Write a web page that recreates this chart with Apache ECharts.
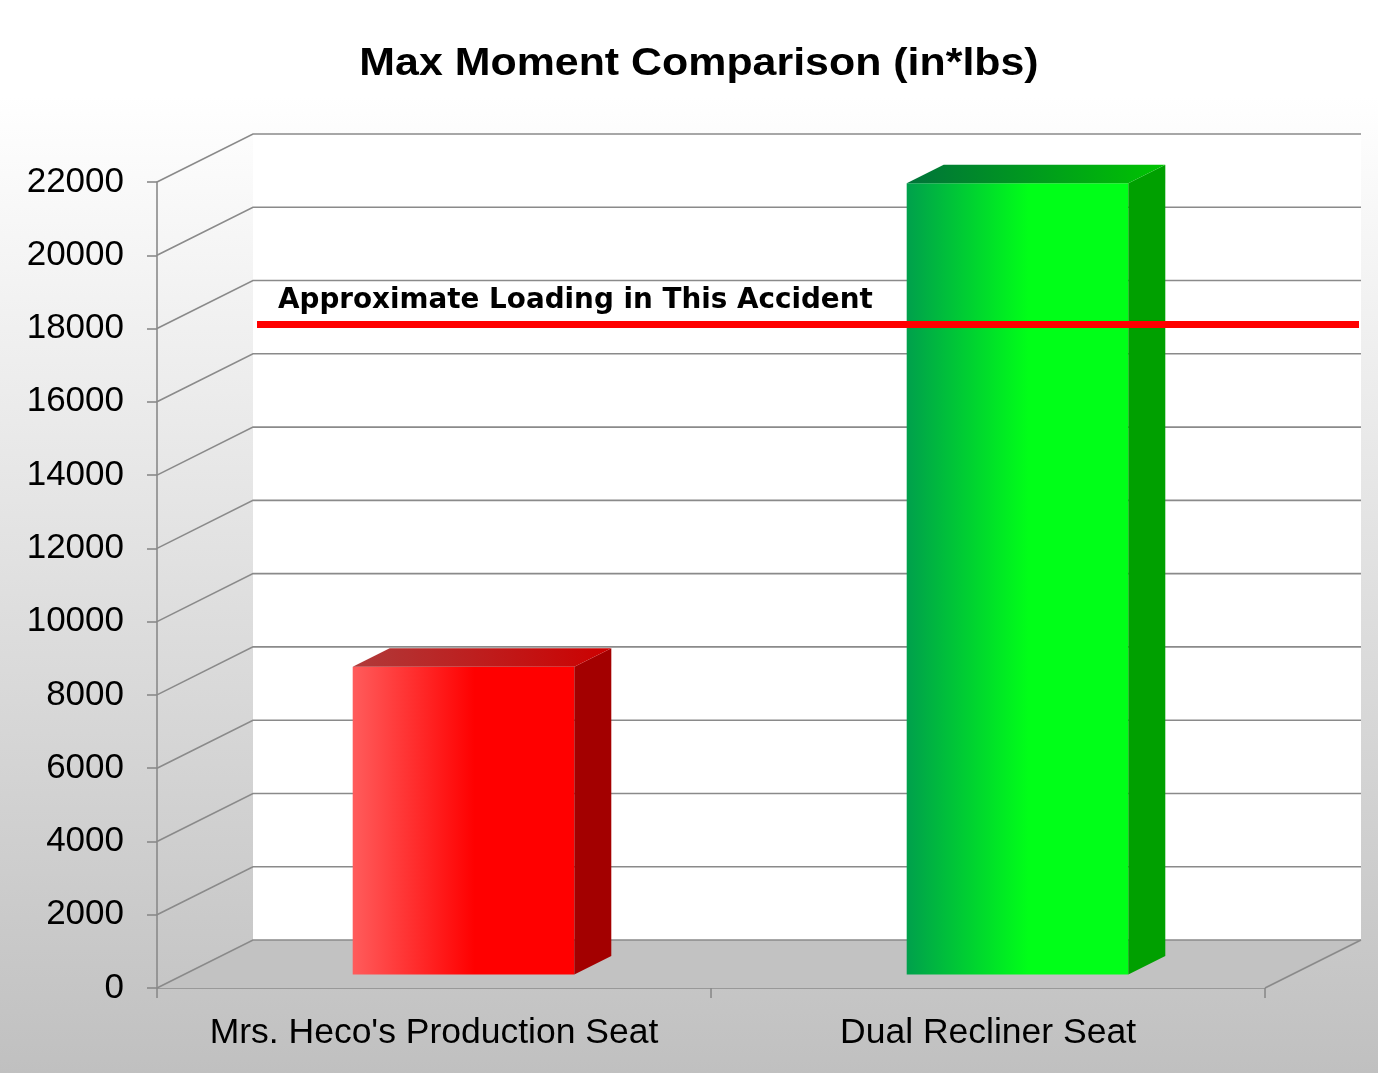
<!DOCTYPE html>
<html lang="en">
<head>
    <meta charset="UTF-8">
    <title>Max Moment Comparison</title>
    <style>
        html, body { margin: 0; padding: 0; }
        body { background: linear-gradient(to bottom, #ffffff 0%, #ffffff 9%, #c0c0c0 100%); }
    </style>
</head>
<body>
<div id="chart_moment" style="width:1378px;height:1073px;"></div>
<script src="https://cdn.jsdelivr.net/npm/echarts@6/dist/echarts.min.js"></script>
<script>
    var categories = ["Mrs. Heco's Production Seat", 'Dual Recliner Seat'];
    var maxMoment = [8400, 21600];
    var yTicks = [0, 2000, 4000, 6000, 8000, 10000, 12000, 14000, 16000, 18000, 20000, 22000];
    var loadingValue = [16800];
    var loadingLabel = 'Approximate Loading in This Accident';
    var chartTitle = 'Max Moment Comparison (in*lbs)';

    // 3d look: depth of the box and where the bars sit inside it
    var DEPTH_X = 96, DEPTH_Y = -48;
    var BAR_OFF_X = 29.5, BAR_OFF_Y = -13.5;
    var BAR_DEPTH_X = 37, BAR_DEPTH_Y = -18.5;

    var barColors = [
        { light: '#ff5c5c', main: '#ff0000', side: '#a30000', topL: '#b03a3a', topR: '#cc0000' },
        { light: '#00a04c', main: '#00ff18', side: '#00a000', topL: '#00733a', topR: '#00c400' }
    ];

    var myChart = echarts.init(document.getElementById('chart_moment'));

    function hGrad(c0, c1, stop) {
        return new echarts.graphic.LinearGradient(0, 0, 1, 0, [
            { offset: 0, color: c0 },
            { offset: stop, color: c1 },
            { offset: 1, color: c1 }
        ]);
    }

    // walls, floor and the 3d grid lines
    function renderFrame(params, api) {
        var cs = params.coordSys;
        var x0 = cs.x, x1 = cs.x + cs.width;
        var yZero = api.coord([0, 0])[1];
        var yTop = api.coord([0, yTicks[yTicks.length - 1]])[1];
        var children = [];
        children.push({
            type: 'rect',
            shape: { x: x0 + DEPTH_X, y: yTop + DEPTH_Y, width: cs.width, height: yZero - yTop },
            style: { fill: '#ffffff' }
        });
        children.push({
            type: 'polygon',
            shape: { points: [[x0, yZero], [x1, yZero], [x1 + DEPTH_X, yZero + DEPTH_Y], [x0 + DEPTH_X, yZero + DEPTH_Y]] },
            style: { fill: '#c2c2c2' }
        });
        yTicks.forEach(function (v) {
            var y = api.coord([0, v])[1];
            children.push({
                type: 'polyline',
                shape: { points: [[x0, y], [x0 + DEPTH_X, y + DEPTH_Y], [x1 + DEPTH_X, y + DEPTH_Y]] },
                style: { stroke: '#8a8a8a', lineWidth: 1.6, fill: null }
            });
        });
        children.push({
            type: 'line',
            shape: { x1: x1, y1: yZero, x2: x1 + DEPTH_X, y2: yZero + DEPTH_Y },
            style: { stroke: '#8a8a8a', lineWidth: 1.6 }
        });
        return { type: 'group', children: children };
    }

    function renderBar(params, api) {
        var idx = api.value(0);
        var base = api.coord([idx, 0]);
        var top = api.coord([idx, api.value(1)]);
        var w = api.size([1, 0])[0] * 0.4;
        var xl = base[0] + BAR_OFF_X - w / 2, xr = xl + w;
        var yb = base[1] + BAR_OFF_Y, yt = top[1] + BAR_OFF_Y;
        var c = barColors[idx];
        return {
            type: 'group',
            children: [
                {
                    type: 'rect',
                    shape: { x: xl, y: yt, width: w, height: yb - yt },
                    style: { fill: hGrad(c.light, c.main, 0.55) }
                },
                {
                    type: 'polygon',
                    shape: { points: [[xr, yt], [xr + BAR_DEPTH_X, yt + BAR_DEPTH_Y], [xr + BAR_DEPTH_X, yb + BAR_DEPTH_Y], [xr, yb]] },
                    style: { fill: c.side }
                },
                {
                    type: 'polygon',
                    shape: { points: [[xl, yt], [xl + BAR_DEPTH_X, yt + BAR_DEPTH_Y], [xr + BAR_DEPTH_X, yt + BAR_DEPTH_Y], [xr, yt]] },
                    style: { fill: hGrad(c.topL, c.topR, 1) }
                }
            ]
        };
    }

    function renderLoading(params, api) {
        var cs = params.coordSys;
        var y = api.coord([0, api.value(0)])[1] + DEPTH_Y;
        var xl = cs.x + DEPTH_X;
        return {
            type: 'group',
            children: [
                {
                    type: 'line',
                    shape: { x1: xl + 4, y1: y, x2: cs.x + cs.width + DEPTH_X - 2, y2: y },
                    style: { stroke: '#ff0000', lineWidth: 7 }
                },
                {
                    type: 'text',
                    style: {
                        x: xl + 25, y: y - 24,
                        text: loadingLabel,
                        fill: '#000',
                        font: 'bold 27.8px "DejaVu Sans"',
                        verticalAlign: 'middle'
                    }
                }
            ]
        };
    }

    myChart.setOption({
        backgroundColor: 'transparent',
        animation: false,
        graphic: [{
            type: 'text',
            x: 699,
            y: 64,
            scaleX: 1.1,
            style: {
                text: chartTitle,
                fill: '#000',
                font: 'bold 39px "Liberation Sans"',
                align: 'center',
                verticalAlign: 'middle'
            }
        }],
        grid: { left: 157, right: 113, top: 182, bottom: 85 },
        xAxis: {
            type: 'category',
            data: categories,
            axisLine: { lineStyle: { color: '#8a8a8a', width: 1.6 } },
            axisTick: { show: true, length: 10, lineStyle: { color: '#8a8a8a', width: 1.6 } },
            axisLabel: { interval: 0, fontFamily: 'Liberation Sans', fontSize: 35.5, color: '#000', margin: 27 }
        },
        yAxis: {
            type: 'value',
            min: 0,
            max: 22000,
            interval: 2000,
            axisLine: { show: true, lineStyle: { color: '#8a8a8a', width: 1.6 } },
            axisTick: { show: true, length: 10, lineStyle: { color: '#8a8a8a', width: 1.6 } },
            splitLine: { show: false },
            axisLabel: {
                fontFamily: 'Liberation Sans', fontSize: 35, color: '#000', margin: 33,
                formatter: function (v) { return String(v); }
            }
        },
        series: [
            { type: 'custom', renderItem: renderFrame, data: [0], z: 1, silent: true },
            {
                type: 'custom',
                name: 'Max Moment',
                renderItem: renderBar,
                data: maxMoment.map(function (v, i) { return [i, v]; }),
                encode: { x: 0, y: 1 },
                z: 3
            },
            {
                type: 'custom',
                renderItem: renderLoading,
                data: loadingValue.map(function (v) { return [v]; }),
                encode: { y: 0 },
                z: 4,
                silent: true
            }
        ]
    });
</script>
</body>
</html>
